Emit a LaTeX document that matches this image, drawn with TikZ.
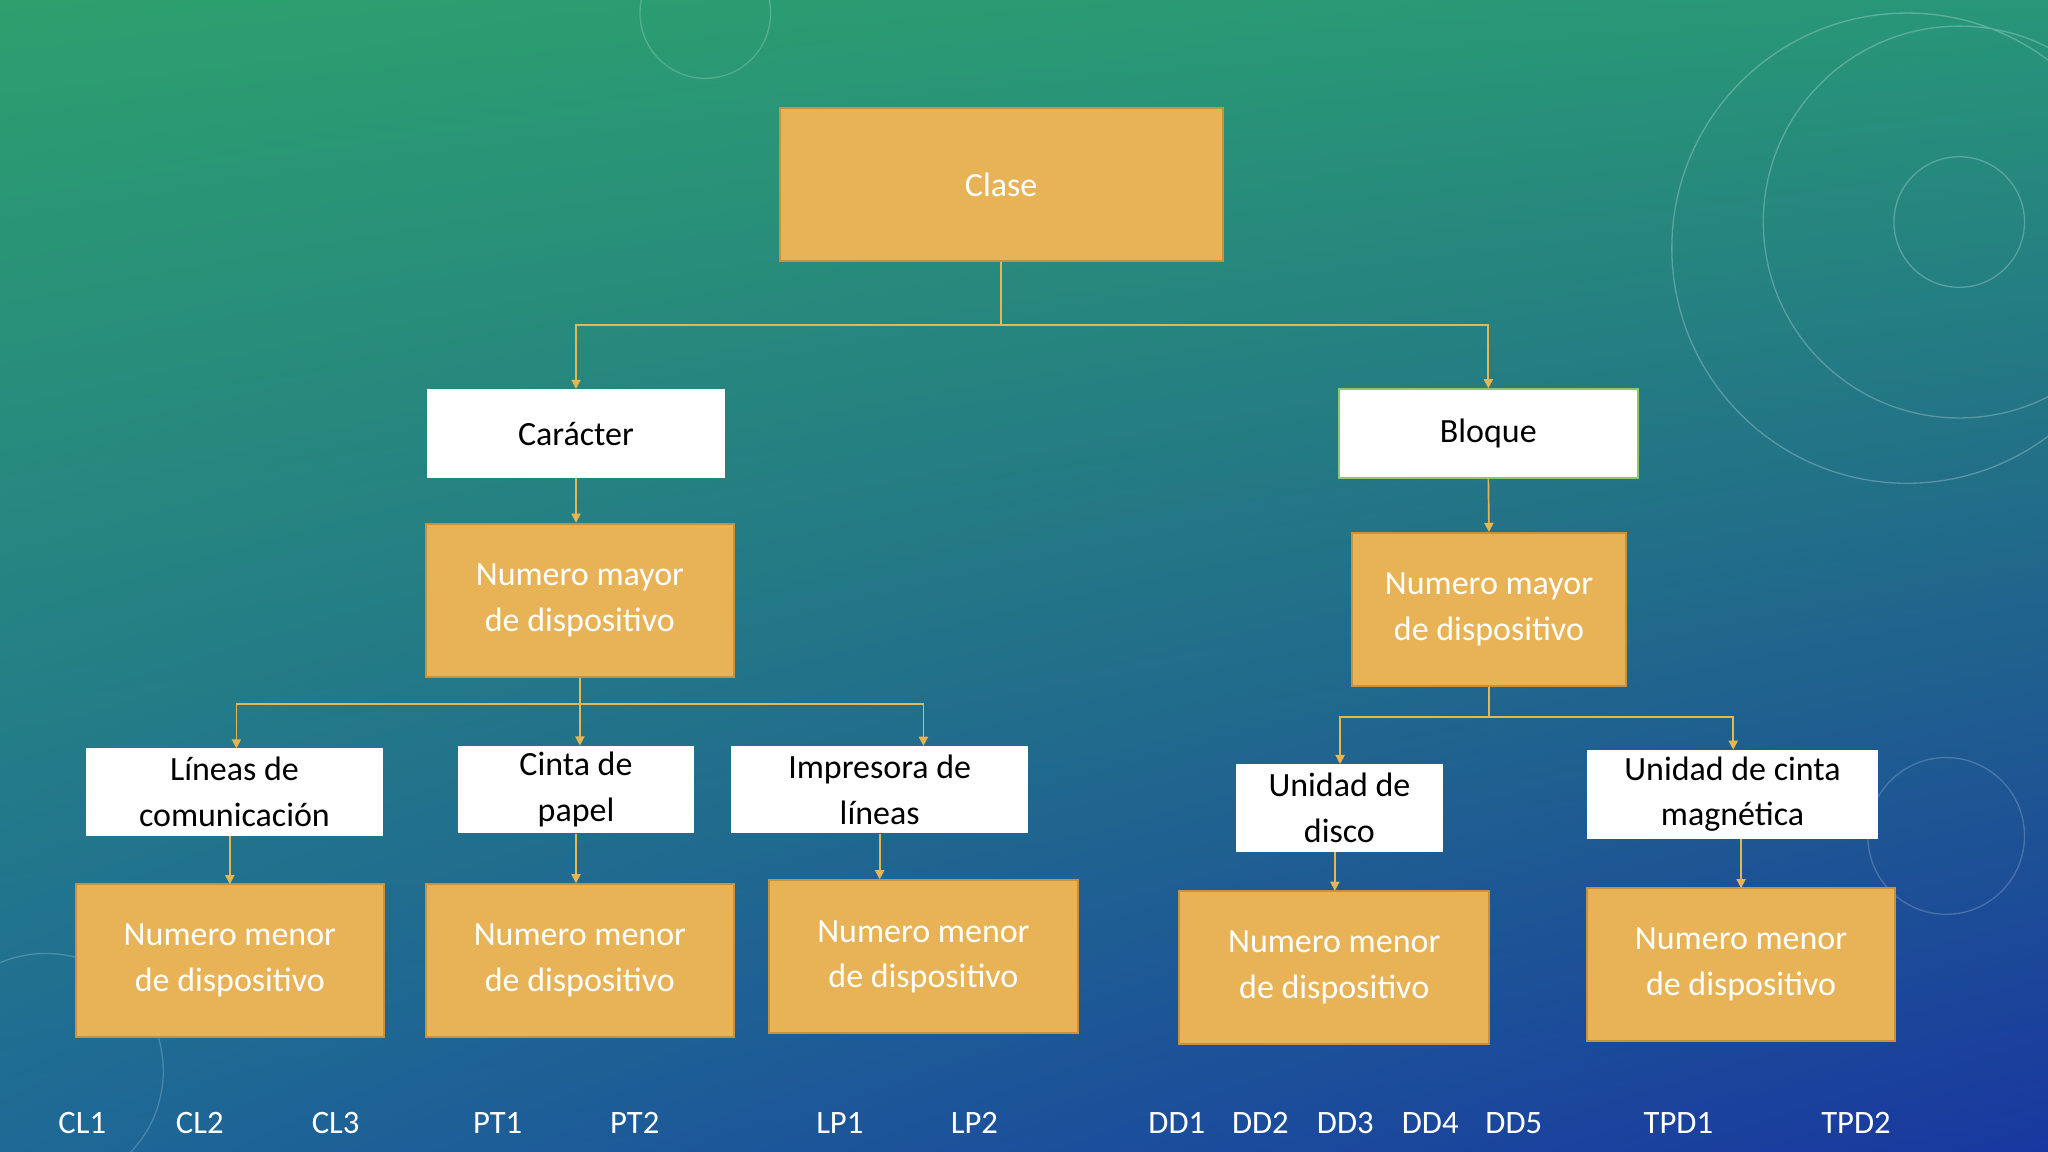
\documentclass[tikz,border=0pt]{standalone}
\usepackage{fontspec}
\setmainfont{Carlito}
\usetikzlibrary{arrows.meta,shadings}
\definecolor{orb}{RGB}{231,179,86}
\definecolor{orbd}{RGB}{200,145,60}
\definecolor{ln}{RGB}{232,182,80}
\definecolor{gbd}{RGB}{140,200,110}
\definecolor{bga}{RGB}{45,160,110}
\definecolor{bgb}{RGB}{40,150,120}
\definecolor{bgc}{RGB}{30,105,150}
\definecolor{bgd}{RGB}{25,55,160}
\tikzset{
 ob/.style={draw=orbd,line width=1.5pt,fill=orb,text=white,align=center,font=\fontsize{26}{35}\selectfont,inner sep=0pt},
 wb/.style={fill=white,text=black,align=center,font=\fontsize{26}{35}\selectfont,inner sep=0pt},
 cn/.style={draw=ln,line width=1.3pt,-{Triangle[length=7pt,width=7pt]}},
 cl/.style={draw=ln,line width=1.3pt},
 lb/.style={text=white,font=\fontsize{25}{30}\selectfont}
}
\begin{document}
\begin{tikzpicture}[x=1pt,y=-1pt]
\useasboundingbox (0,0) rectangle (1568,882);
\shade[upper left=bga,upper right=bgb,lower left=bgc,lower right=bgd] (0,0) rectangle (1568,882);
\draw[white,opacity=0.25,line width=1pt] (1500,170) circle (50) (1500,170) circle (150) (1460,190) circle (180);
\draw[white,opacity=0.2,line width=1pt] (540,10) circle (50) (1490,640) circle (60) (35,820) circle (90);
% nodes
\node[ob,minimum width=339pt,minimum height=117pt] (clase) at (766.5,141.5) {Clase};
\node[wb,minimum width=228pt,minimum height=68pt] (car) at (441,332) {Carácter};
\node[wb,draw=gbd,line width=1.5pt,minimum width=229pt,minimum height=68pt] (blo) at (1139.5,332) {Bloque};
\node[ob,minimum width=236pt,minimum height=117pt] (maL) at (444,459.5) {Numero mayor\\de dispositivo};
\node[ob,minimum width=210pt,minimum height=117pt] (maR) at (1140,466.5) {Numero mayor\\de dispositivo};
\node[wb,minimum width=227pt,minimum height=67pt] (lin) at (179.5,606.5) {Líneas de\\comunicación};
\node[wb,minimum width=180pt,minimum height=67pt] (cin) at (441,604.5) {Cinta de\\papel};
\node[wb,minimum width=227pt,minimum height=67pt] (imp) at (673.5,604.5) {Impresora de\\líneas};
\node[wb,minimum width=159pt,minimum height=67pt] (dis) at (1025.5,618.5) {Unidad de\\disco};
\node[wb,minimum width=223pt,minimum height=68pt] (mag) at (1326.5,608) {Unidad de cinta\\magnética};
\node[ob,minimum width=236pt,minimum height=117pt] (m1) at (176,735.5) {Numero menor\\de dispositivo};
\node[ob,minimum width=236pt,minimum height=117pt] (m2) at (444,735.5) {Numero menor\\de dispositivo};
\node[ob,minimum width=236pt,minimum height=117pt] (m3) at (707,732.5) {Numero menor\\de dispositivo};
\node[ob,minimum width=237pt,minimum height=117pt] (m4) at (1021.5,740.5) {Numero menor\\de dispositivo};
\node[ob,minimum width=236pt,minimum height=117pt] (m5) at (1333,738.5) {Numero menor\\de dispositivo};
% junctions
\coordinate (j1) at (766.5,249);
\coordinate (j2) at (444,539);
\coordinate (j3) at (1140,549);
% connectors
\draw[cl] (clase.south) -- (j1);
\draw[cn] (j1) -| (car.north);
\draw[cn] (j1) -| (blo.north);
\draw[cn] (car.south) -- (car.south |- maL.north);
\draw[cn] (blo.south) -- (maR.north);
\draw[cl] (maL.south) -- (j2);
\draw[cn] (j2) -| (181,573);
\draw[cn] (j2) -- (cin.north -| j2);
\draw[cn] (j2) -| (707,571);
\draw[cl] (maR.south) -- (j3);
\draw[cn] (j3) -| (1026,585);
\draw[cn] (j3) -| (1327,574);
\draw[cn] (176,640) -- (176,677);
\draw[cn] (cin.south) -- (cin.south |- m2.north);
\draw[cn] (imp.south) -- (imp.south |- m3.north);
\draw[cn] (1022,652) -- (1022,682);
\draw[cn] (1333,642) -- (1333,680);
% bottom labels
\foreach \t/\x [count=\i] in {CL1/63,CL2/153,CL3/257,PT1/381,PT2/486,LP1/643,LP2/746,DD1/901,DD2/965,DD3/1030,DD4/1095,DD5/1159,TPD1/1285,TPD2/1421}
 \node[lb] (b\i) at (\x,860) {\t};
\end{tikzpicture}
\end{document}
